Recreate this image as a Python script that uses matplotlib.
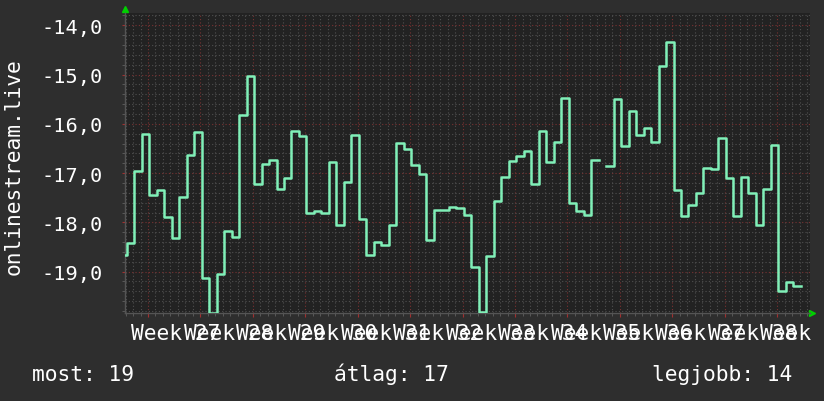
import numpy as np
import matplotlib
matplotlib.use("Agg")
import matplotlib.pyplot as plt
from matplotlib.ticker import MultipleLocator, FixedLocator, FuncFormatter
from matplotlib.transforms import blended_transform_factory

# napi helyezés (negatív rang), egy nap hiányzik
rank = [
    -18.66, -18.42, -16.96, -16.20, -17.44, -17.35, -17.90, -18.31, -17.48, -16.64,
    -16.16, -19.13, -19.83, -19.04, -18.17, -18.29, -15.82, -15.02, -17.23, -16.81,
    -16.73, -17.33, -17.09, -16.14, -16.24, -17.80, -17.76, -17.80, -16.77, -18.05,
    -17.19, -16.22, -17.94, -18.67, -18.39, -18.45, -18.05, -16.38, -16.51, -16.84,
    -17.01, -18.35, -17.74, -17.74, -17.69, -17.71, -17.85, -18.90, -19.81, -18.69,
    -17.56, -17.07, -16.75, -16.65, -16.56, -17.23, -16.14, -16.77, -16.36, -15.47,
    -17.60, -17.77, -17.86, -16.73, np.nan, -16.85, -15.49, -16.46, -15.73, -16.22,
    -16.08, -16.37, -14.82, -14.33, -17.35, -17.87, -17.65, -17.40, -16.89, -16.91,
    -16.28, -17.09, -17.87, -17.08, -17.40, -18.05, -17.32, -16.42, -19.40, -19.22,
    -19.30,
]
weeks = ["Week %d" % w for w in range(27, 40)]
yticks = [-19, -18, -17, -16, -15, -14]
legend = ["most: 19", "átlag: 17", "legjobb: 14"]
ylabel = "onlinestream.live"

day_offset = 0.227     # első minta csak részben látszik
week_offset = 3.07     # első hét vonal
x_end = 91.45

BG = "#2e2e2e"
PLOT_BG = "#222222"
LINE = "#80f0b8"
FONT = "DejaVu Sans Mono"
FS = 15.3

fig = plt.figure(figsize=(8.24, 4.02), dpi=100, facecolor=BG)
ax = fig.add_axes([125 / 824, 88 / 402, 685 / 824, 300 / 402])
ax.set_facecolor(PLOT_BG)

edges = [0.0] + [day_offset + k for k in range(len(rank))]
ys = rank + [rank[-1]]
ax.plot(edges, ys, drawstyle="steps-post", color=LINE, lw=1.8, zorder=5)

ax.set_xlim(0, x_end)
ax.set_ylim(-19.84, -13.75)

major_x = [week_offset + 7 * k for k in range(13)]
minor_x = [week_offset + n for n in range(-3, 89)]
ax.xaxis.set_major_locator(FixedLocator(major_x))
ax.xaxis.set_minor_locator(FixedLocator(minor_x))
ax.xaxis.set_major_formatter(FuncFormatter(lambda v, p: ""))
ax.yaxis.set_major_locator(FixedLocator(yticks))
ax.yaxis.set_minor_locator(MultipleLocator(0.2))
ax.yaxis.set_major_formatter(FuncFormatter(lambda v, p: ("%.1f" % v).replace(".", ",")))

ax.grid(which="minor", color="#505050", ls=(0, (1, 2)), lw=0.8)
ax.grid(which="major", color="#7a3232", ls=(0, (1, 2)), lw=0.8)

ax.tick_params(axis="x", which="major", length=3, color="#a03030", direction="out")
ax.tick_params(axis="x", which="minor", length=2, color="#606060", direction="out")
ax.tick_params(axis="y", which="major", length=2, color="#a03030", direction="out",
               pad=14, labelsize=14.6, labelcolor="white", labelfontfamily=FONT)
ax.tick_params(axis="y", which="minor", length=2, color="#606060", direction="out")

for s in ["top", "right"]:
    ax.spines[s].set_visible(False)
for s in ["left", "bottom"]:
    ax.spines[s].set_color("#555555")
    ax.spines[s].set_linewidth(1.0)

# zöld nyilak a tengelyek végén
ax.plot([0], [1.012], marker="^", color="#00d000", ms=5, transform=ax.transAxes, clip_on=False)
ax.plot([1.003], [0], marker=">", color="#00d000", ms=5, transform=ax.transAxes, clip_on=False)

# hét feliratok (az eredetin is egymásra csúsznak)
tr = blended_transform_factory(ax.transData, fig.transFigure)
for k, w in enumerate(weeks):
    ax.text(week_offset + 3.71 + 7 * k, 62 / 402, w, transform=tr, ha="center", va="baseline",
            color="white", fontsize=FS, family=FONT, clip_on=False)

fig.text(0.016, 1 - 167 / 402, ylabel, rotation=90, ha="center", va="center",
         color="white", fontsize=FS, family=FONT)

fig.text(32 / 824, 21 / 402, legend[0], ha="left", va="baseline", color="white",
         fontsize=FS, family=FONT)
fig.text(334 / 824, 21 / 402, legend[1], ha="left", va="baseline", color="white",
         fontsize=FS, family=FONT)
fig.text(792 / 824, 21 / 402, legend[2], ha="right", va="baseline", color="white",
         fontsize=FS, family=FONT)

fig.savefig("out.png", dpi=100, facecolor=BG)
